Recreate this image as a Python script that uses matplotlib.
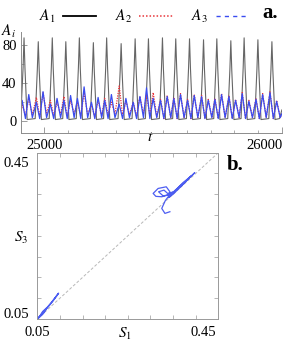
import numpy as np
import matplotlib
matplotlib.use('Agg')
import matplotlib.pyplot as plt
from matplotlib.lines import Line2D
from matplotlib.transforms import ScaledTranslation

plt.rcParams['font.family'] = ['Liberation Serif', 'DejaVu Serif']
plt.rcParams['mathtext.fontset'] = 'stix'

# panel a: values (time, amplitude)
a1_t = [24900, 24910, 24914, 24918, 24927,
        24961, 24970, 24974, 24978, 24987,
        25020, 25029, 25033, 25037, 25046,
        25077, 25086, 25090, 25094, 25103,
        25134, 25143, 25147, 25151, 25160,
        25193, 25202, 25206, 25210, 25219,
        25249, 25258, 25262, 25266, 25275,
        25310, 25319, 25323, 25327, 25336,
        25369, 25378, 25382, 25386, 25395,
        25425, 25434, 25438, 25442, 25451,
        25484, 25493, 25497, 25501, 25510,
        25540, 25549, 25553, 25557, 25566,
        25598, 25607, 25611, 25615, 25624,
        25657, 25666, 25670, 25674, 25683,
        25713, 25722, 25726, 25730, 25739,
        25772, 25781, 25785, 25789, 25798,
        25828, 25837, 25841, 25845, 25854,
        25886, 25895, 25899, 25903, 25912,
        25945, 25954, 25958, 25962, 25971,
        25990, 26000]
a1 = [3, 56, 87, 55, 2,
      3, 54, 83, 53, 2,
      3, 56, 87, 55, 2,
      3, 54, 83, 53, 2,
      3, 56, 87, 55, 2,
      3, 53, 82, 52, 2,
      3, 56, 87, 55, 2,
      3, 53, 81, 52, 2,
      3, 56, 86, 55, 2,
      3, 56, 86, 55, 2,
      3, 56, 87, 55, 2,
      3, 56, 86, 55, 2,
      3, 56, 86, 55, 2,
      3, 55, 85, 54, 2,
      3, 56, 86, 55, 2,
      3, 54, 84, 53, 2,
      3, 56, 87, 55, 2,
      3, 55, 85, 54, 2,
      3, 54, 83, 53, 2,
      3, 12]

a3_t = [24900, 24906, 24920, 24934, 24949,
        24966, 24980, 24994, 25009,
        25025, 25039, 25053, 25068,
        25082, 25096, 25110, 25125,
        25139, 25153, 25167, 25182,
        25198, 25212, 25226, 25241,
        25254, 25268, 25282, 25297,
        25315, 25329, 25343, 25358,
        25374, 25388, 25402, 25417,
        25430, 25444, 25458, 25473,
        25489, 25503, 25517, 25532,
        25545, 25559, 25573, 25588,
        25603, 25617, 25631, 25646,
        25662, 25676, 25690, 25705,
        25718, 25732, 25746, 25761,
        25777, 25791, 25805, 25820,
        25833, 25847, 25861, 25876,
        25891, 25905, 25919, 25934,
        25950, 25964, 25978, 25993, 26000]
a3 = [12, 22, 3, 28, 4,
      20, 3, 31, 4,
      18, 3, 24, 4,
      22, 3, 27, 4,
      24, 3, 36, 4,
      20, 3, 25, 4,
      22, 3, 28, 4,
      18, 3, 24, 4,
      20, 3, 26, 4,
      35, 3, 24, 4,
      22, 3, 26, 4,
      24, 3, 28, 4,
      22, 3, 27, 4,
      26, 3, 22, 4,
      23, 3, 28, 4,
      26, 3, 22, 4,
      29, 3, 21, 4,
      23, 3, 28, 4,
      30, 3, 21, 4, 8]
a2 = [8, 18, 6, 24, 7,
      25, 5, 30, 8,
      22, 6, 20, 7,
      26, 5, 22, 8,
      20, 6, 30, 7,
      18, 5, 22, 6,
      24, 7, 20, 8,
      37, 6, 22, 7,
      20, 5, 26, 8,
      28, 6, 30, 5,
      23, 3, 27, 4,
      25, 3, 29, 4,
      23, 3, 28, 4,
      27, 3, 23, 4,
      24, 3, 29, 4,
      27, 3, 23, 4,
      30, 3, 22, 4,
      24, 3, 29, 4,
      31, 3, 22, 4, 8]

# panel b: S1 vs S3 trajectory pieces
lo_s1 = [0.050, 0.058, 0.066, 0.072, 0.080, 0.090, 0.097, 0.085, 0.070, 0.060,
         0.054, 0.062, 0.070, 0.064, 0.056, 0.052]
lo_s3 = [0.050, 0.060, 0.070, 0.078, 0.088, 0.102, 0.112, 0.094, 0.074, 0.060,
         0.054, 0.068, 0.076, 0.064, 0.056, 0.051]
hi_s1 = [0.343, 0.332, 0.325, 0.333, 0.340, 0.343, 0.335, 0.317, 0.306, 0.312,
         0.325, 0.338, 0.350, 0.365, 0.380, 0.398, 0.385, 0.365, 0.350, 0.340,
         0.355, 0.372, 0.390, 0.372, 0.352, 0.338, 0.330, 0.318, 0.328, 0.345]
hi_s3 = [0.308, 0.304, 0.316, 0.335, 0.345, 0.356, 0.368, 0.364, 0.352, 0.345,
         0.344, 0.348, 0.355, 0.368, 0.383, 0.402, 0.388, 0.366, 0.350, 0.342,
         0.360, 0.376, 0.394, 0.378, 0.356, 0.352, 0.360, 0.356, 0.346, 0.350]
s_lim = [0.05, 0.45]

blue = '#3a4cf0'
red = '#e8353a'

fig = plt.figure(figsize=(2.9, 3.45), dpi=100)

def px_shift(dx, dy):
    return ScaledTranslation(dx / 100, dy / 100, fig.dpi_scale_trans)

# ---- panel a
ax1 = fig.add_axes([0.0714, 0.6145, 0.9006, 0.2925])
ax1.plot(a1_t, a1, color='0.4', lw=0.8)
ax1.plot(a3_t, a2, color=red, lw=0.9, ls=(0, (1, 1)))
ax1.plot(a3_t, a3, color=blue, lw=0.9)
ax1.set_xlim(24900, 26000)
ax1.set_ylim(-12, 93)
for sp in ['top', 'right']:
    ax1.spines[sp].set_visible(False)
for sp in ['left', 'bottom']:
    ax1.spines[sp].set_color('0.55')
    ax1.spines[sp].set_linewidth(0.7)
ax1.set_xticks([25000, 26000], ['25000', '26000'])
ax1.set_xticks(np.arange(24900, 26001, 100), minor=True)
ax1.set_yticks([0, 40, 80])
ax1.set_yticks([20, 60], minor=True)
ax1.tick_params(which='both', direction='in', color='0.55', labelsize=10.5)
ax1.tick_params(which='major', length=4, width=0.6)
ax1.tick_params(which='minor', length=2.5, width=0.5)
ax1.tick_params(axis='x', pad=4)
ax1.tick_params(axis='y', pad=3)
lab = ax1.xaxis.get_major_ticks()[1].label1
lab.set_transform(lab.get_transform() + px_shift(-17, 0))
ax1.set_xlabel('$t$', fontsize=11, va='center')
ax1.xaxis.set_label_coords(0.495, -0.04)
ax1.set_ylabel('$A_i$', fontsize=11, rotation=0, ha='center', va='center')
ax1.yaxis.set_label_coords(-0.045, 1.01)

handles = [Line2D([], [], color='black', lw=1.3),
           Line2D([], [], color=red, lw=1.1, ls=(0, (1, 1.3))),
           Line2D([], [], color=blue, lw=1.0, ls=(0, (3, 3)))]
ax1.legend(handles, ['$A_1$', '$A_2$', '$A_3$'], ncol=3, markerfirst=False,
           frameon=False, fontsize=11, handlelength=2.2, handletextpad=0.5,
           columnspacing=1.2, loc='center', bbox_to_anchor=(0.497, 0.951),
           bbox_transform=fig.transFigure, borderpad=0)
fig.text(270 / 290, 1 - 13 / 345, 'a.', fontsize=15, fontweight='bold',
         ha='center', va='center')

# ---- panel b
ax2 = fig.add_axes([0.1286, 0.0754, 0.6242, 0.4820])
ax2.plot(s_lim, s_lim, color='0.72', lw=0.7, ls=(0, (3, 2)))
ax2.plot(lo_s1, lo_s3, color=blue, lw=1.0, alpha=0.9)
ax2.plot(hi_s1, hi_s3, color=blue, lw=0.9, alpha=0.9)
ax2.set_xlim(*s_lim)
ax2.set_ylim(*s_lim)
for sp in ax2.spines.values():
    sp.set_color('0.6')
    sp.set_linewidth(0.7)
ax2.set_xticks(s_lim, ['0.05', '0.45'])
ax2.set_yticks(s_lim, ['0.05', '0.45'])
ax2.set_xticks(np.arange(0.1, 0.45, 0.05), minor=True)
ax2.set_yticks(np.arange(0.1, 0.45, 0.05), minor=True)
ax2.tick_params(which='both', direction='in', color='0.6', labelsize=10.5,
                top=True, right=True)
ax2.tick_params(which='major', length=0)
ax2.tick_params(which='minor', length=3, width=0.5)
ax2.tick_params(axis='x', pad=5)
ax2.tick_params(axis='y', pad=6)
xt = ax2.xaxis.get_major_ticks()
yt = ax2.yaxis.get_major_ticks()
xt[1].label1.set_transform(xt[1].label1.get_transform() + px_shift(-15, 0))
yt[0].label1.set_transform(yt[0].label1.get_transform() + px_shift(0, 6))
yt[1].label1.set_transform(yt[1].label1.get_transform() + px_shift(0, -9))
ax2.set_xlabel('$S_1$', fontsize=11, va='center')
ax2.xaxis.set_label_coords(0.485, -0.09)
ax2.set_ylabel('$S_3$', fontsize=11, rotation=0, ha='center', va='center')
ax2.yaxis.set_label_coords(-0.09, 0.487)
fig.text(235 / 290, 1 - 165 / 345, 'b.', fontsize=15, fontweight='bold',
         ha='center', va='center')

fig.savefig('out.png', dpi=100)
